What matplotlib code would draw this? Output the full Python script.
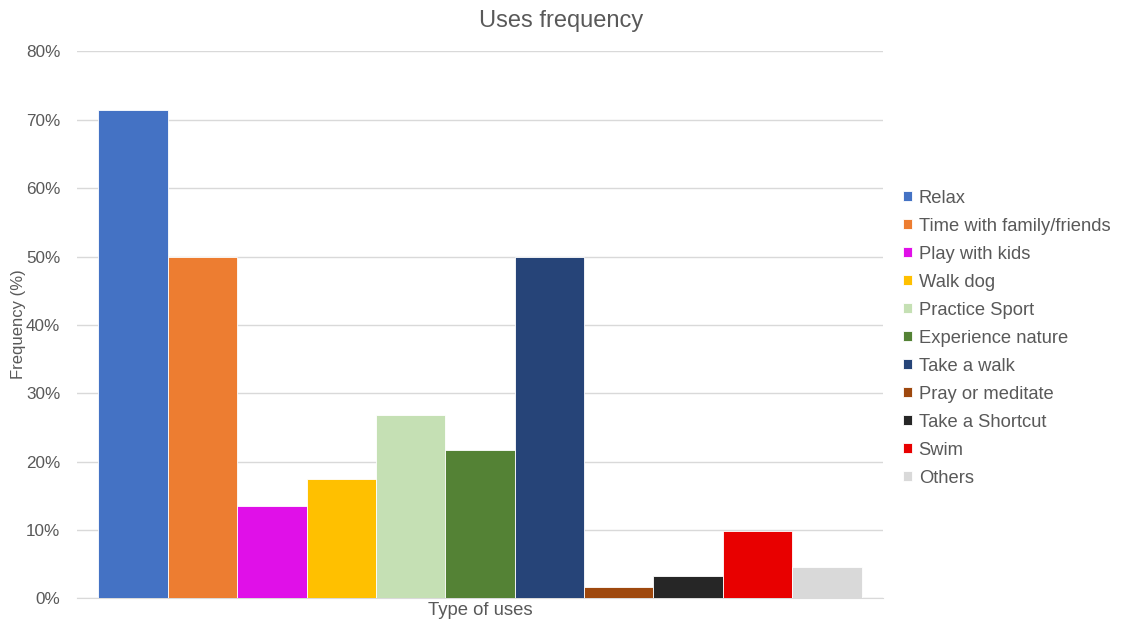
import numpy as np
import matplotlib.pyplot as plt
from matplotlib.ticker import PercentFormatter

plt.rcParams['font.family'] = ['Liberation Sans', 'DejaVu Sans']

# Share of respondents per type of use
uses = ['Relax', 'Time with family/friends', 'Play with kids', 'Walk dog',
        'Practice Sport', 'Experience nature', 'Take a walk', 'Pray or meditate',
        'Take a Shortcut', 'Swim', 'Others']
freq = [0.714, 0.500, 0.135, 0.174, 0.268, 0.217, 0.500, 0.016, 0.033, 0.098, 0.046]
colors = ['#4472C4', '#ED7D31', '#E010E8', '#FFC000', '#C5E0B4', '#548235',
          '#264478', '#9E480E', '#262626', '#E80000', '#D9D9D9']

TEXT = '#595959'

fig = plt.figure(figsize=(11.22, 6.24), dpi=100)
ax = fig.add_axes([0.0686, 0.0412, 0.7184, 0.8763])

x = np.arange(len(uses))
for i, (name, val, col) in enumerate(zip(uses, freq, colors)):
    ax.bar(x[i], val, width=1.0, color=col, label=name,
           edgecolor='white', linewidth=0.6, zorder=3)

ax.set_ylim(0, 0.8)
ax.set_xlim(-0.81, len(uses) - 0.19)
ax.set_yticks(np.arange(0, 0.81, 0.1))
ax.yaxis.set_major_formatter(PercentFormatter(1.0, decimals=0))
ax.set_xticks([])
ax.tick_params(axis='y', length=0, labelsize=12.3, labelcolor=TEXT, pad=12)
ax.grid(axis='y', color='#D9D9D9', linewidth=1, zorder=0)
for side in ['top', 'right', 'left']:
    ax.spines[side].set_visible(False)
ax.spines['bottom'].set_color('#D9D9D9')

ax.set_xlabel('Type of uses', fontsize=13.3, color=TEXT, labelpad=3)
fig.text(18 / 1122, 1 - 324 / 624, 'Frequency (%)', rotation=90,
         ha='center', va='center', fontsize=12, color=TEXT)
fig.text(0.5, 1 - 21 / 624, 'Uses frequency', ha='center', va='center',
         fontsize=17, color=TEXT)

fig.legend(loc='upper left', bbox_to_anchor=(0.798, 0.708), frameon=False,
           fontsize=13.2, labelcolor=TEXT, handlelength=0.53, handleheight=0.53,
           handletextpad=0.34, labelspacing=0.6, borderaxespad=0)

fig.savefig('out.png', dpi=100)
